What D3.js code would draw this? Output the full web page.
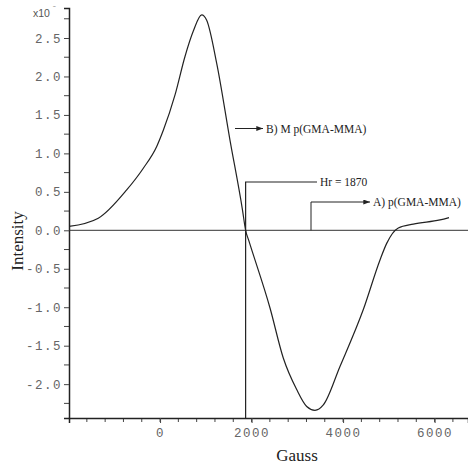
<!DOCTYPE html>
<html>
<head>
<meta charset="utf-8">
<script src="https://cdn.jsdelivr.net/npm/d3@7"></script>
<style>
  body { margin: 0; background: #fff; }
  svg { display: block; }
  .tick text { font-family: "Liberation Mono", "DejaVu Sans Mono", monospace; fill: #666; }
</style>
</head>
<body>
<svg id="chart" width="468" height="466"></svg>
<script>
// field (Gauss) and intensity (x10^?)
var gauss = [-1990, -1350, -729, -366, -73, 71, 327, 545, 727, 910, 1019, 1238, 1529, 1800, 1870, 1940,
             2403, 2693, 2986, 3205, 3386, 3568, 3932, 4442, 4807, 4953, 5207, 5535, 6118, 6315];
var intensity = [0.05, 0.157, 0.525, 0.807, 1.09, 1.30, 1.76, 2.26, 2.59, 2.80, 2.73, 2.17, 1.17, 0.27, 0.0, -0.135,
                 -1.01, -1.66, -2.07, -2.29, -2.34, -2.27, -1.77, -1.03, -0.385, -0.17, 0.03, 0.08, 0.135, 0.165];

var xMajor = [0, 2000, 4000, 6000];
var yMajor = [-2.0, -1.5, -1.0, -0.5, 0.0, 0.5, 1.0, 1.5, 2.0, 2.5];
var hr = 1870;
var labelA = "A) p(GMA-MMA)";
var labelB = "B) M p(GMA-MMA)";

var svg = d3.select("#chart");

var x = d3.scaleLinear().domain([-1990, 6730]).range([69, 468]);
var y = d3.scaleLinear().domain([-2.44, 2.89]).range([418, 8]);

var ink = "#222";

// minor ticks every 400 G / 0.25
var xMinor = d3.range(-1600, 6800, 400);
var yMinor = d3.range(-2.25, 2.9, 0.5);

svg.append("g")
  .selectAll("line").data(xMinor).enter().append("line")
  .attr("x1", function(d){ return x(d); }).attr("x2", function(d){ return x(d); })
  .attr("y1", 418).attr("y2", 422)
  .attr("stroke", "#444");

svg.append("g")
  .selectAll("line").data(yMinor).enter().append("line")
  .attr("x1", 64).attr("x2", 69)
  .attr("y1", function(d){ return y(d); }).attr("y2", function(d){ return y(d); })
  .attr("stroke", "#444");

var xAxis = d3.axisBottom(x).tickValues(xMajor).tickSize(5).tickPadding(5)
  .tickFormat(d3.format("d"));
var gx = svg.append("g").attr("transform", "translate(0,418)").call(xAxis);
gx.select(".domain").attr("stroke", ink).attr("stroke-width", 1.5);
gx.selectAll(".tick line").attr("stroke", "#444");
gx.selectAll(".tick text").attr("font-size", 12.5).attr("letter-spacing", "1.5px");

var yAxis = d3.axisLeft(y).tickValues(yMajor).tickSize(5).tickPadding(2)
  .tickFormat(d3.format(".1f"));
var gy = svg.append("g").attr("transform", "translate(69,0)").call(yAxis);
gy.select(".domain").attr("stroke", ink).attr("stroke-width", 1.5);
gy.selectAll(".tick line").attr("stroke", "#444");
gy.selectAll(".tick text").attr("font-size", 12.5).attr("letter-spacing", "1.5px")
  .text(function(d){ return d3.format(".1f")(d).replace("−", "-"); });

// zero line
svg.append("line")
  .attr("x1", 69).attr("x2", 468)
  .attr("y1", y(0)).attr("y2", y(0))
  .attr("stroke", "#333").attr("stroke-width", 1);

// exponent label
svg.append("text").attr("x", 33).attr("y", 17)
  .attr("font-family", "Liberation Sans, Arial, sans-serif").attr("font-size", 10.5).attr("fill", "#555")
  .text("x10");
svg.append("text").attr("x", 53).attr("y", 11)
  .attr("font-family", "Liberation Sans, Arial, sans-serif").attr("font-size", 8).attr("fill", "#777")
  .text("˜");

// the curve
var pts = gauss.map(function(g, i){ return [g, intensity[i]]; });
var line = d3.line()
  .x(function(d){ return x(d[0]); })
  .y(function(d){ return y(d[1]); })
  .curve(d3.curveMonotoneX);
svg.append("path").datum(pts)
  .attr("d", line)
  .attr("fill", "none").attr("stroke", ink).attr("stroke-width", 1.2);

// arrow head
svg.append("defs").append("marker")
  .attr("id", "arr").attr("viewBox", "0 0 8 6")
  .attr("refX", 8).attr("refY", 3)
  .attr("markerWidth", 7).attr("markerHeight", 5)
  .attr("orient", "auto")
  .append("path").attr("d", "M0,0L8,3L0,6Z").attr("fill", ink);

var serif = "Liberation Serif, Times New Roman, serif";

// Hr marker
svg.append("path")
  .attr("d", "M" + x(hr) + "," + 418 + "V" + 182 + "H" + 317)
  .attr("fill", "none").attr("stroke", ink).attr("stroke-width", 1.2);
svg.append("text").attr("x", 320).attr("y", 186)
  .attr("font-family", serif).attr("font-size", 11.5).attr("fill", ink)
  .text("Hr = " + hr);

// A) annotation
svg.append("path")
  .attr("d", "M311," + y(0) + "V202H370")
  .attr("fill", "none").attr("stroke", ink).attr("stroke-width", 1)
  .attr("marker-end", "url(#arr)");
svg.append("text").attr("x", 373).attr("y", 206)
  .attr("font-family", serif).attr("font-size", 11.5).attr("fill", ink)
  .text(labelA);

// B) annotation
svg.append("path")
  .attr("d", "M235,128.5H263")
  .attr("fill", "none").attr("stroke", ink).attr("stroke-width", 1)
  .attr("marker-end", "url(#arr)");
svg.append("text").attr("x", 266).attr("y", 132.5)
  .attr("font-family", serif).attr("font-size", 11.5).attr("fill", ink)
  .text(labelB);

// axis titles
svg.append("text").attr("x", 297).attr("y", 461)
  .attr("text-anchor", "middle")
  .attr("font-family", serif).attr("font-size", 17).attr("fill", ink)
  .text("Gauss");
svg.append("text")
  .attr("transform", "translate(23,241) rotate(-90)")
  .attr("text-anchor", "middle")
  .attr("font-family", serif).attr("font-size", 17).attr("fill", ink)
  .text("Intensity");
</script>
</body>
</html>
